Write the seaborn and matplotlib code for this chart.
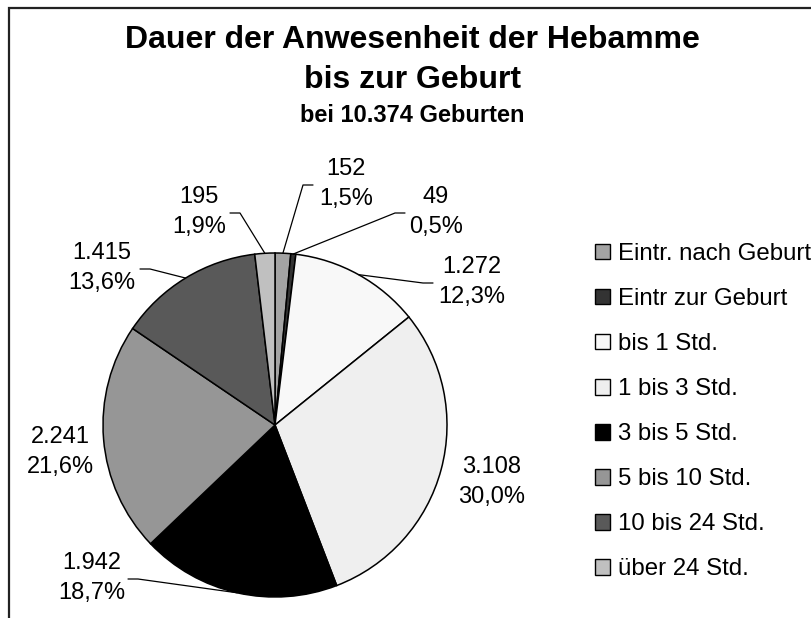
import matplotlib
matplotlib.use("Agg")
import matplotlib.pyplot as plt
import matplotlib.patches as mpatches
import numpy as np
import seaborn as sns

# Daten
kategorien = ["Eintr. nach Geburt", "Eintr zur Geburt", "bis 1 Std.", "1 bis 3 Std.",
              "3 bis 5 Std.", "5 bis 10 Std.", "10 bis 24 Std.", "über 24 Std."]
anzahl = [152, 49, 1272, 3108, 1942, 2241, 1415, 195]
farben = ["#a3a3a3", "#333333", "#f8f8f8", "#efefef",
          "#000000", "#969696", "#595959", "#c0c0c0"]

# Layout (Pixel im Bild 812x618)
W, H = 812, 618
cx, cy, R = 275, 425, 172
label_pos = [(346, 184), (436, 212), (472, 282), (492, 482),
             (92, 578), (60, 452), (102, 268), (199, 212)]
# Abstand des Führungslinien-Starts vom Label-Mittelpunkt (None = keine Linie)
leader_dx = [-33, -31, -39, None, 36, None, 38, 31]

sns.set_style("white")
plt.rcParams["font.family"] = ["Liberation Sans", "DejaVu Sans"]
plt.rcParams["text.color"] = "black"

fig = plt.figure(figsize=(W / 100, H / 100), dpi=100)
ax = fig.add_axes([(cx - R) / W, (H - cy - R) / H, 2 * R / W, 2 * R / H])

wedges, _ = ax.pie(anzahl, colors=farben, startangle=90, counterclock=False,
                   wedgeprops=dict(edgecolor="black", linewidth=1.1))
ax.set_xlim(-1, 1)
ax.set_ylim(-1, 1)
ax.axis("off")


def px2d(px, py):
    return (px - cx) / R, (cy - py) / R


gesamt = sum(anzahl)
for w, n, (lx, ly), dx in zip(wedges, anzahl, label_pos, leader_dx):
    pct = f"{100 * n / gesamt:.1f}%".replace(".", ",")
    wert = f"{n:,}".replace(",", ".")
    tx, ty = px2d(lx, ly)
    ax.text(tx, ty, f"{wert}\n{pct}", ha="center", va="center", fontsize=17,
            linespacing=1.5, clip_on=False)
    if dx is not None:
        mid = np.deg2rad((w.theta1 + w.theta2) / 2)
        ex, ey = np.cos(mid), np.sin(mid)
        sx, sy = px2d(lx + dx, ly + 1)
        kx = sx + np.sign(dx) * 10 / R
        ax.plot([sx, kx, ex], [sy, sy, ey], color="black", lw=0.9, clip_on=False)

# Legende
handles = [mpatches.Patch(facecolor=f, edgecolor="black", linewidth=1) for f in farben]
fig.legend(handles, kategorien, loc="upper left", bbox_to_anchor=(595 / W, 1 - 243 / H),
           frameon=False, fontsize=17.3, handlelength=0.62, handleheight=0.62,
           handletextpad=0.33, labelspacing=0.96, borderpad=0, borderaxespad=0)

# Titel
fig.text(412 / W, 1 - 48 / H, "Dauer der Anwesenheit der Hebamme", ha="center",
         va="baseline", fontsize=23, fontweight="bold")
fig.text(412 / W, 1 - 88 / H, "bis zur Geburt", ha="center", va="baseline",
         fontsize=23, fontweight="bold")
fig.text(412 / W, 1 - 122 / H, "bei 10.374 Geburten", ha="center", va="baseline",
         fontsize=17, fontweight="bold")

# Rahmen (rechts/unten abgeschnitten)
fig.add_artist(mpatches.Rectangle((9 / W, -0.1), 1.2, 1 - 8 / H + 0.1,
                                  transform=fig.transFigure, fill=False,
                                  edgecolor="#222222", linewidth=1.6))

fig.savefig("out.png", dpi=100)
